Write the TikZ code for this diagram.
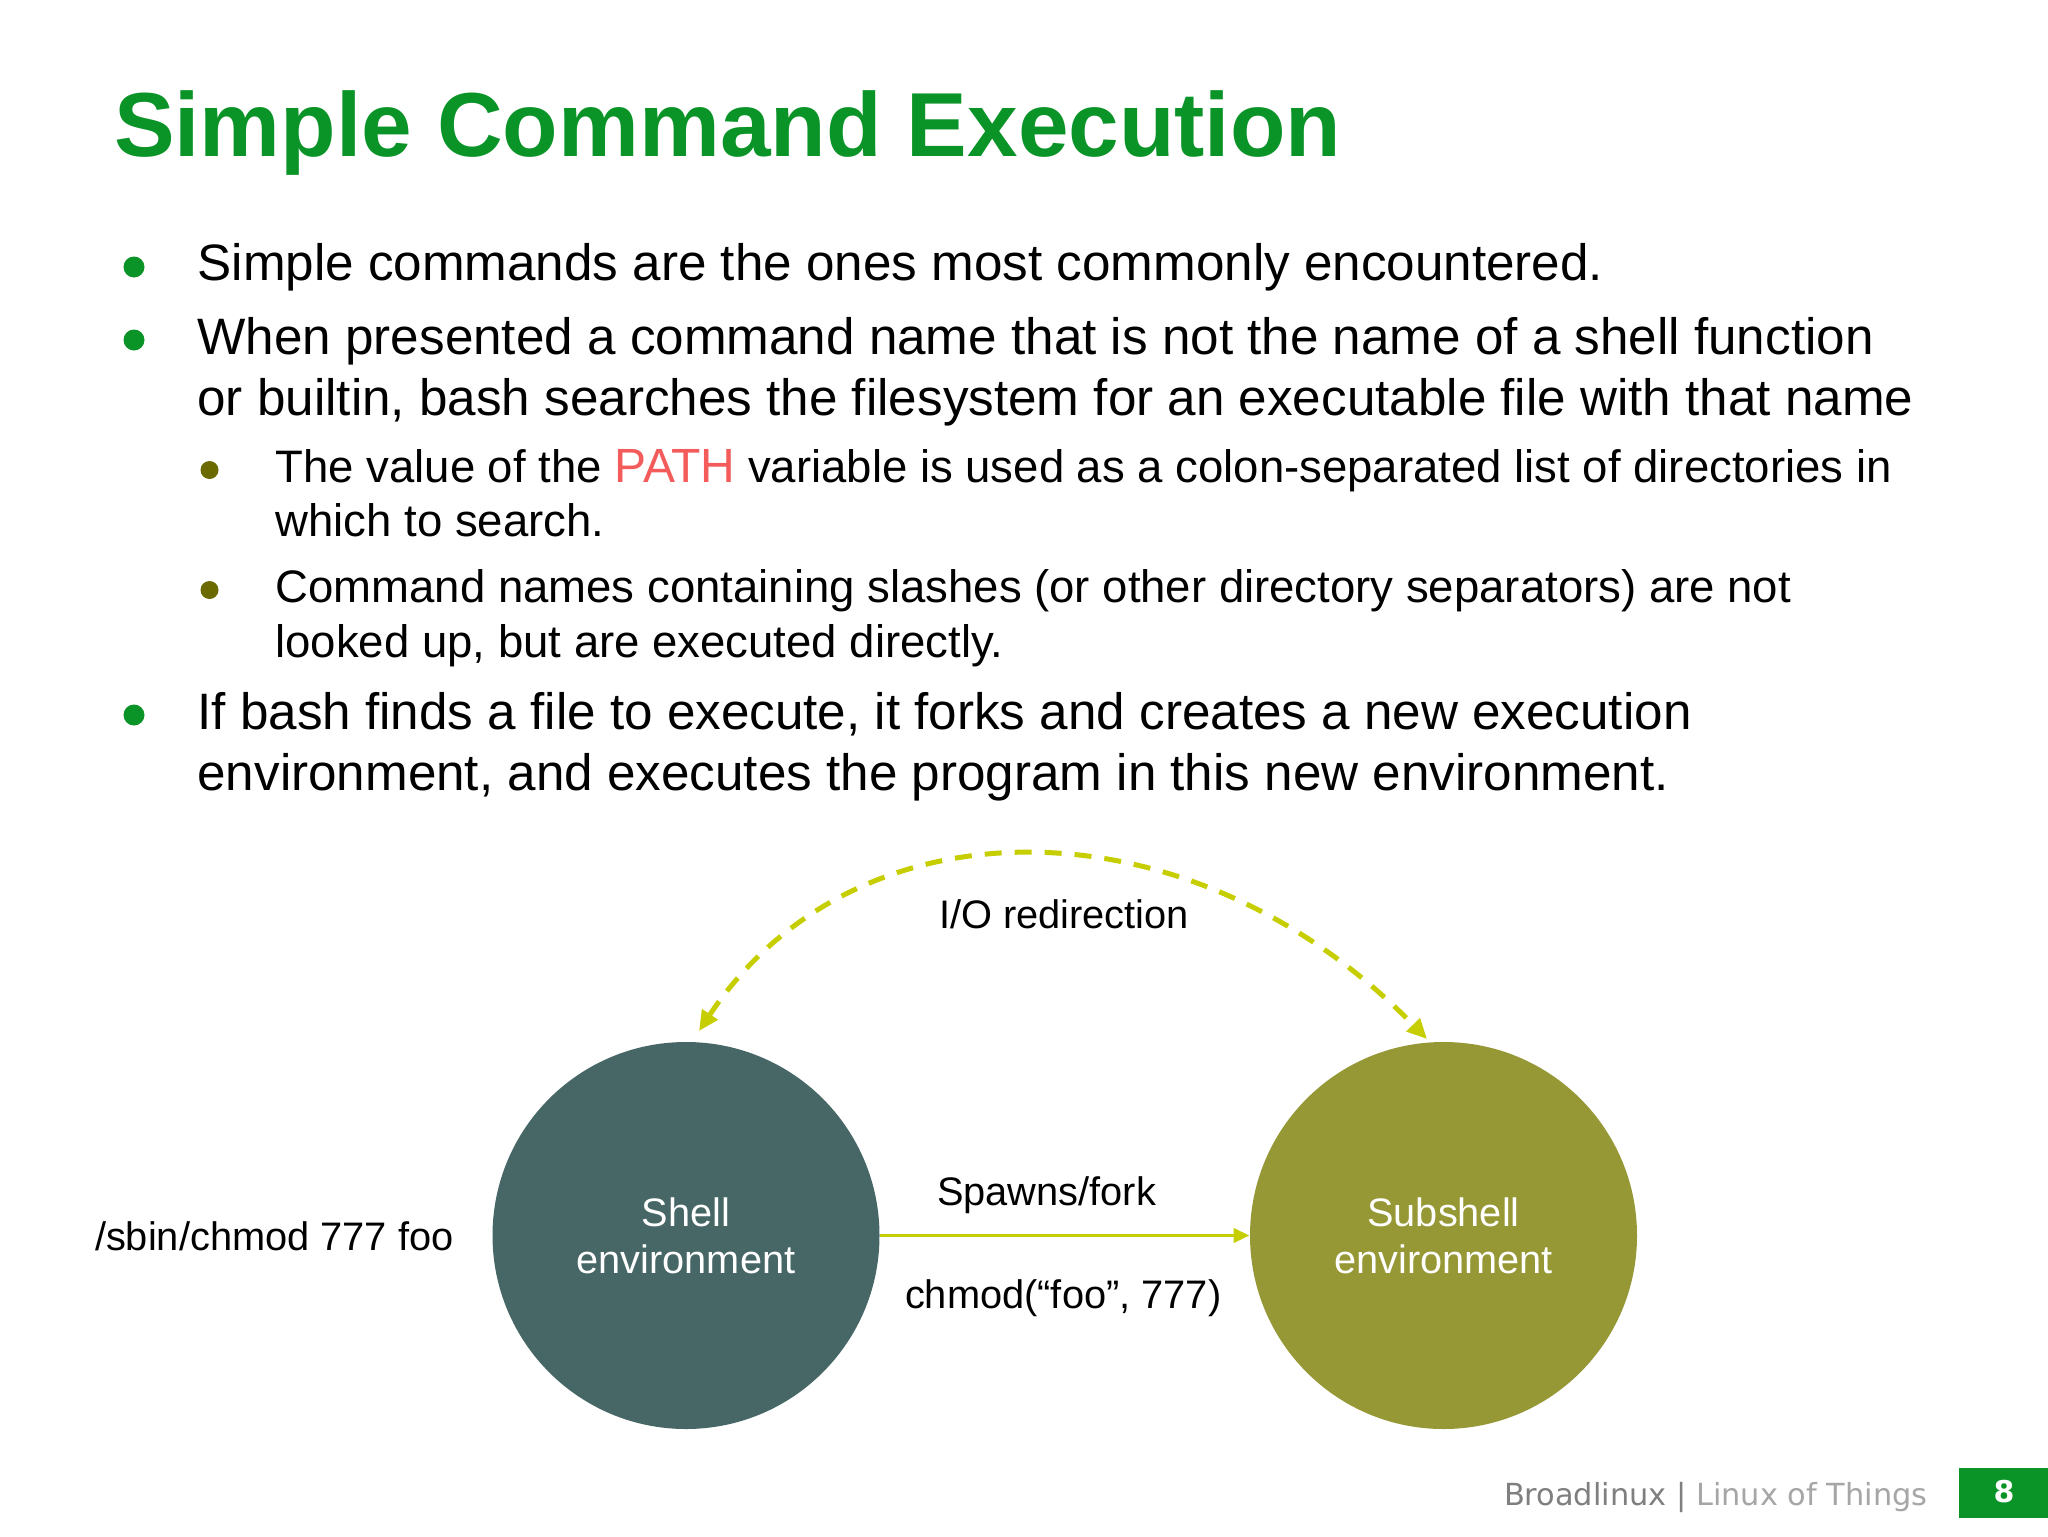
\documentclass[tikz,border=0pt]{standalone}
\usepackage{fontspec}
\setmainfont{Liberation Sans}
\newfontfamily\footfont{DejaVu Sans}
\usetikzlibrary{arrows.meta}
\definecolor{titlegreen}{HTML}{0A9428}
\definecolor{subdot}{HTML}{6B6A00}
\definecolor{pathred}{HTML}{F45B5B}
\definecolor{shellc}{HTML}{476766}
\definecolor{subc}{HTML}{969735}
\definecolor{lime}{HTML}{C6CE00}
\definecolor{footdark}{HTML}{7F7F7F}
\definecolor{footlight}{HTML}{A6A6A6}
\tikzset{
 x=0.5pt,y=-0.5pt,
 line/.style={anchor=base west,inner sep=0pt,outer sep=0pt},
 main/.style={line,font=\fontsize{25.6}{30}\selectfont},
 sub/.style={line,font=\fontsize{22.76}{28}\selectfont},
 lbl/.style={line,font=\fontsize{19.9}{24}\selectfont},
 dotmain/.style={circle,fill=titlegreen,inner sep=0pt,minimum size=10.5pt},
 dotsub/.style={circle,fill=subdot,inner sep=0pt,minimum size=9pt},
 env/.style={circle,inner sep=0pt,minimum size=193.5pt,text=white,align=center,font=\fontsize{19.85}{23.5}\selectfont},
 flow/.style={draw=lime,line width=1.8pt,-{Triangle[length=8pt,width=7pt]}},
 redir/.style={draw=lime,line width=2.5pt,dash pattern=on 8.5pt off 6.5pt,{Triangle[length=10pt,width=9pt]}-{Triangle[length=10pt,width=9pt]}},
}
\begin{document}
\begin{tikzpicture}
\useasboundingbox (0,0) rectangle (2048,1536);
\fill[white] (0,0) rectangle (2048,1536);
\node[line,text=titlegreen,font=\fontsize{45.45}{50}\selectfont\bfseries] (title) at (114,156) {Simple Command Execution};
\node[dotmain] (d1) at (134,267) {};
\node[main] (l1) at (197.5,280) {Simple commands are the ones most commonly encountered.};
\node[dotmain] (d2) at (134,340) {};
\node[main] (l2) at (197.5,354) {When presented a command name that is not the name of a shell function};
\node[main] (l3) at (197.5,415) {or builtin, bash searches the filesystem for an executable file with that name};
\node[dotsub] (d3) at (209.5,470) {};
\node[sub] (l4) at (275.5,482) {The value of the \textcolor{pathred}{\fontsize{24}{28}\selectfont PATH} variable is used as a colon-separated list of directories in};
\node[sub] (l5) at (275.5,536) {which to search.};
\node[dotsub] (d4) at (209.5,590) {};
\node[sub] (l6) at (275.5,602) {Command names containing slashes (or other directory separators) are not};
\node[sub] (l7) at (275.5,657) {looked up, but are executed directly.};
\node[dotmain] (d5) at (134,715) {};
\node[main] (l8) at (197.5,729) {If bash finds a file to execute, it forks and creates a new execution};
\node[main] (l9) at (197.5,790) {environment, and executes the program in this new environment.};
\node[env,fill=shellc] (shell) at (686,1235.5) {Shell\\environment};
\node[env,fill=subc] (subsh) at (1443.5,1235.5) {Subshell\\environment};
\draw[flow] (shell) -- (subsh);
\coordinate (redirL) at (699,1031);
\coordinate (redirR) at (1427,1039);
\draw[redir] (redirL) .. controls (855,796) and (1190,796) .. (redirR);
\node[lbl] (io) at (939,928) {I/O redirection};
\node[lbl] (spawn) at (937,1205) {Spawns/fork};
\node[lbl] (chm) at (905,1308) {chmod(“foo”, 777)};
\node[lbl] (cmd) at (95,1250) {/sbin/chmod 777 foo};
\node[line,font=\footfont\fontsize{15.2}{18}\selectfont,text=footlight] (foot) at (1504,1505) {\textcolor{footdark}{Broadlinux |} Linux of Things};
\fill[titlegreen] (1959,1468) rectangle (2048,1518);
\node[font=\footfont\bfseries\fontsize{15}{18}\selectfont,text=white,inner sep=0pt] (num) at (2004,1492) {8};
\end{tikzpicture}
\end{document}
